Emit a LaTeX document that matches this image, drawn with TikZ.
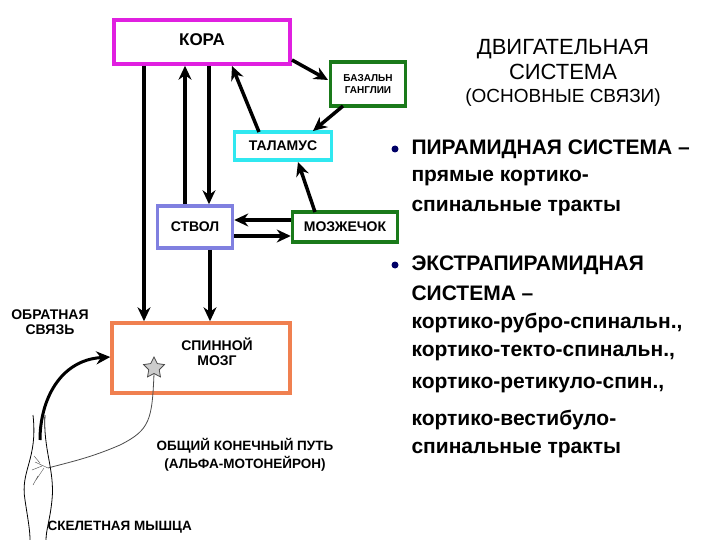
\documentclass[tikz,border=0pt]{standalone}
\usepackage{fontspec}
\setmainfont{Liberation Sans}
\usetikzlibrary{arrows.meta,shapes.geometric}
\begin{document}
\begin{tikzpicture}[x=1pt,y=-1pt,
 box/.style={draw,line width=3.5pt,fill=white,inner sep=0pt,font=\bfseries\fontsize{14}{15}\selectfont},
 ar/.style={line width=3.5pt,-{Stealth[length=14pt,width=13pt]}},
 bl/.style={anchor=west,font=\bfseries\fontsize{21}{24}\selectfont}]
\useasboundingbox (0,0) rectangle (720,540);
\definecolor{mag}{HTML}{E020E0}\definecolor{grn}{HTML}{1A7A1A}
\definecolor{cy}{HTML}{30E8F0}\definecolor{blu}{HTML}{8080E0}\definecolor{org}{HTML}{F08050}
\node[box,draw=mag,minimum width=176pt,minimum height=44pt] (kora) at (202,42) {};
\node[font=\bfseries\fontsize{17}{18}\selectfont] (koraT) at (202,40) {КОРА};
\node[box,draw=grn,minimum width=75pt,minimum height=44pt,align=center,font=\bfseries\fontsize{10}{12}\selectfont] (bas) at (368,84) {БАЗАЛЬН\\ГАНГЛИИ};
\node[box,draw=cy,minimum width=97pt,minimum height=28pt] (tal) at (283,146) {ТАЛАМУС};
\node[box,draw=blu,minimum width=75pt,minimum height=42pt] (stv) at (195,227) {СТВОЛ};
\node[box,draw=grn,minimum width=105pt,minimum height=30pt] (moz) at (345,227) {МОЗЖЕЧОК};
\node[box,draw=org,minimum width=178pt,minimum height=70pt] (sp) at (201,358) {};
\node[align=center,font=\bfseries\fontsize{14}{15}\selectfont] (spT) at (217,352) {СПИННОЙ\\МОЗГ};
\coordinate (k1) at (144,64); \coordinate (s1) at (144,323);
\draw[ar] (kora.south -| k1) -- (sp.north -| s1);
\draw[ar] (stv.north -| 185,0) -- (kora.south -| 185,0);
\draw[ar] (kora.south -| 209,0) -- (stv.north -| 209,0);
\draw[ar] (stv.south -| 210,0) -- (sp.north -| 210,0);
\coordinate (kb) at (292,60); \coordinate (bk) at (328,80);
\draw[ar] (kb) -- (bk);
\coordinate (bt) at (343,106); \coordinate (tb) at (313,131);
\draw[ar] (bt) -- (tb);
\coordinate (tk) at (259,132); \coordinate (kt) at (232,66);
\draw[ar] (tk) -- (kt);
\coordinate (mt) at (315,212); \coordinate (tm) at (298,162);
\draw[ar] (mt) -- (tm);
\draw[ar] (moz.west |- 0,220) -- (stv.east |- 0,220);
\draw[ar] (stv.east |- 0,236) -- (moz.west |- 0,236);
% neuron
\node[star,star points=5,star point ratio=2,draw=black!70,fill=black!20,minimum size=22pt,inner sep=0pt,thick] (st) at (154,368) {};
\coordinate (nd) at (48,468);
\draw[black!70,thick] (st.south) .. controls (152,420) and (150,430) .. (120,445) .. controls (90,458) and (70,462) .. (nd);
\draw[black!70] (nd) -- (35,462) (42,466) -- (32,470) (44,468) -- (36,480) (38,476) -- (33,485) (40,463)--(34,456);
% muscle
\draw[thick] (33,415) .. controls (38,460) and (20,470) .. (25,500) .. controls (28,520) and (30,530) .. (30,540);
\draw[thick] (45,415) .. controls (43,450) and (55,470) .. (52,500) .. controls (50,520) and (46,530) .. (46,540);
\coordinate (fb) at (40,440);
\draw[line width=3pt,-{Stealth[length=14pt,width=13pt]}] (fb) .. controls (40,400) and (60,360) .. (sp.west |- 0,357);
\node[align=center,font=\bfseries\fontsize{14}{15}\selectfont] (obr) at (50,322) {ОБРАТНАЯ\\СВЯЗЬ};
\node[align=center,font=\bfseries\fontsize{13.5}{18}\selectfont] (ob) at (245,455) {ОБЩИЙ КОНЕЧНЫЙ ПУТЬ\\(АЛЬФА-МОТОНЕЙРОН)};
\node[anchor=west,font=\bfseries\fontsize{13.5}{15}\selectfont] (sk) at (44,527) {СКЕЛЕТНАЯ МЫШЦА};
% right text
\node[align=center,font=\fontsize{22}{25}\selectfont] (t1) at (563,60) {ДВИГАТЕЛЬНАЯ\\СИСТЕМА};
\node[font=\fontsize{19}{21}\selectfont] (t2) at (563,98) {(ОСНОВНЫЕ СВЯЗИ)};
\fill[black!60!blue] (395,149) circle (3.5pt) (395,265) circle (3.5pt);
\node[bl] (a1) at (408,149) {ПИРАМИДНАЯ СИСТЕМА –};
\node[bl] (a2) at (408,178) {прямые кортико-};
\node[bl] (a3) at (408,208) {спинальные тракты};
\node[bl] (b1) at (408,265) {ЭКСТРАПИРАМИДНАЯ};
\node[bl] (b2) at (408,293) {СИСТЕМА –};
\node[bl] (b3) at (408,323) {кортико-рубро-спинальн.,};
\node[bl] (b4) at (408,353) {кортико-текто-спинальн.,};
\node[bl] (b5) at (408,385) {кортико-ретикуло-спин.,};
\node[bl] (b6) at (408,420) {кортико-вестибуло-};
\node[bl] (b7) at (408,450) {спинальные тракты};
\end{tikzpicture}
\end{document}
